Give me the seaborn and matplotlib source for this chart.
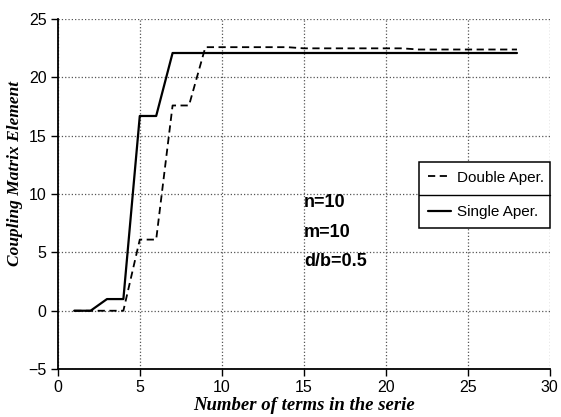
import matplotlib
matplotlib.use("Agg")
import matplotlib.pyplot as plt
import seaborn as sns
import pandas as pd
from matplotlib.lines import Line2D

# ---- data ----
terms = [1, 2, 3, 4, 5, 6, 7, 8, 9, 10, 11, 12, 13, 14, 15, 16, 17, 18, 19, 20,
         21, 22, 23, 24, 25, 26, 27, 28]
double_aper = [0, 0, 0, 0, 6.1, 6.1, 17.6, 17.6, 22.6, 22.6, 22.6, 22.6, 22.6, 22.6,
               22.5, 22.5, 22.5, 22.5, 22.5, 22.5, 22.5, 22.4, 22.4, 22.4, 22.4, 22.4,
               22.4, 22.4]
single_aper = [0, 0, 1, 1, 16.7, 16.7, 22.1, 22.1, 22.1, 22.1, 22.1, 22.1, 22.1, 22.1,
               22.1, 22.1, 22.1, 22.1, 22.1, 22.1, 22.1, 22.1, 22.1, 22.1, 22.1, 22.1,
               22.1, 22.1]
series_names = ["Double Aper.", "Single Aper."]
x_ticks = [0, 5, 10, 15, 20, 25, 30]
y_ticks = [-5, 0, 5, 10, 15, 20, 25]
annotations = ["n=10", "m=10", "d/b=0.5"]

sns.set_theme(style="ticks")
plt.rcParams["font.family"] = ["Liberation Sans", "DejaVu Sans"]
plt.rcParams["text.color"] = "black"
plt.rcParams["axes.labelcolor"] = "black"

fig = plt.figure(figsize=(5.61, 4.17), dpi=100)
ax = fig.add_axes([0.103, 0.115, 0.877, 0.839])

df_d = pd.DataFrame({"x": terms, "y": double_aper})
df_s = pd.DataFrame({"x": terms, "y": single_aper})
sns.lineplot(data=df_d, x="x", y="y", ax=ax, color="black", linewidth=1.3,
             label=series_names[0])
sns.lineplot(data=df_s, x="x", y="y", ax=ax, color="black", linewidth=1.6,
             label=series_names[1])
ax.lines[0].set_dashes([4, 2.5])

ax.set_xlim(0, 30)
ax.set_ylim(-5, 25)
ax.set_xticks(x_ticks)
ax.set_yticks(y_ticks)
ax.set_yticklabels(["\u22125" if v == -5 else str(v) for v in y_ticks])
ax.tick_params(direction="out", length=5, width=1, color="black",
               labelsize=11.5, labelcolor="black", pad=3)

ax.grid(True, linestyle=":", color="#555555", linewidth=0.9)
for s in ["top", "right"]:
    ax.spines[s].set_visible(False)
for s in ["left", "bottom"]:
    ax.spines[s].set_color("black")
    ax.spines[s].set_linewidth(1.3)

ax.set_xlabel("Number of terms in the serie", family=["Liberation Serif"],
              fontstyle="italic", fontweight="bold", fontsize=13.5, labelpad=1,
              color="black")
ax.set_ylabel("Coupling Matrix Element", family=["Liberation Serif"],
              fontstyle="italic", fontweight="bold", fontsize=12.5, labelpad=4,
              color="black")
ax.yaxis.set_label_coords(-0.07, 0.56)

ys = [9.3, 6.7, 4.2]
for t, yv in zip(annotations, ys):
    ax.text(15.0, yv, t, fontsize=13, fontweight="bold", ha="left", va="center",
            family=["Liberation Sans"], color="black")

leg = ax.legend(loc="upper left", bbox_to_anchor=(0.735, 0.40, 0.265, 0.191),
                mode="expand", frameon=True, fancybox=False, fontsize=11,
                borderaxespad=0, handlelength=1.5, handletextpad=0.4,
                labelspacing=1.35, borderpad=0.55)
leg.get_frame().set_edgecolor("black")
leg.get_frame().set_linewidth(1.1)
leg.get_frame().set_alpha(1)
for t in leg.get_texts():
    t.set_color("black")

fig.canvas.draw()
bb = leg.get_window_extent().transformed(fig.transFigure.inverted())
ymid = (bb.y0 + bb.y1) / 2
fig.add_artist(Line2D([bb.x0, bb.x1], [ymid, ymid], color="black", linewidth=1.0,
                      transform=fig.transFigure))

fig.savefig("out.png", dpi=100)
